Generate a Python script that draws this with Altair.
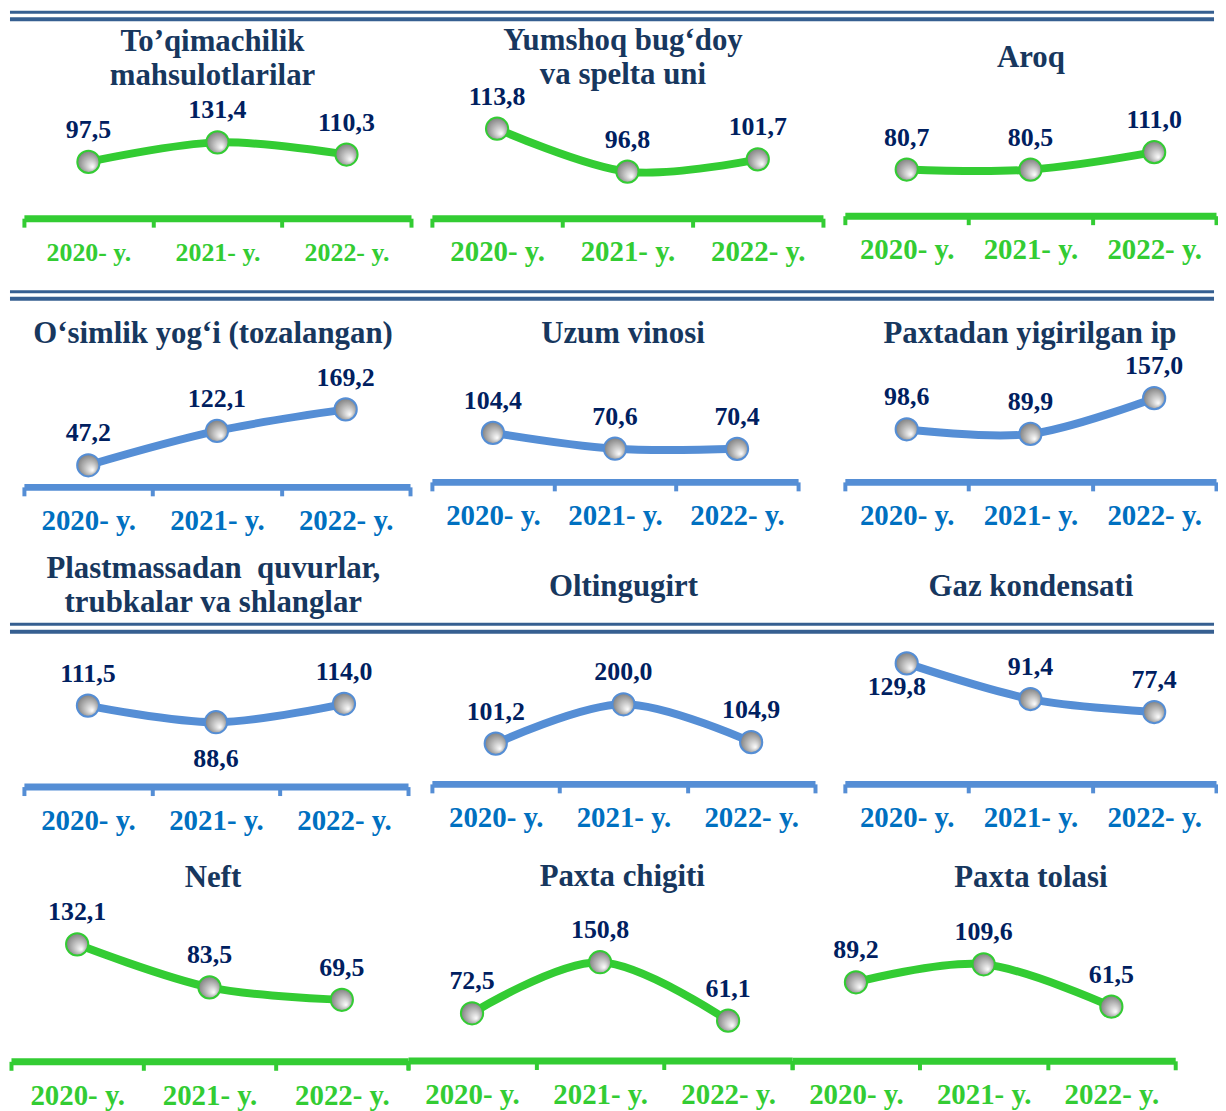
import altair as alt
import pandas as pd

# ---------------- data ----------------
years = ["2020- y.", "2021- y.", "2022- y."]

v_toqimachilik = [97.5, 131.4, 110.3]
v_yumshoq = [113.8, 96.8, 101.7]
v_aroq = [80.7, 80.5, 111.0]
v_osimlik = [47.2, 122.1, 169.2]
v_uzum = [104.4, 70.6, 70.4]
v_paxtadan_ip = [98.6, 89.9, 157.0]
v_plastmassa = [111.5, 88.6, 114.0]
v_oltingugirt = [101.2, 200.0, 104.9]
v_gaz = [129.8, 91.4, 77.4]
v_neft = [132.1, 83.5, 69.5]
v_chigit = [72.5, 150.8, 61.1]
v_tola = [89.2, 109.6, 61.5]

t_toqimachilik = ["To’qimachilik", "mahsulotlarilar"]
t_yumshoq = ["Yumshoq bug‘doy", "va spelta uni"]
t_aroq = ["Aroq"]
t_osimlik = ["O‘simlik yog‘i (tozalangan)"]
t_uzum = ["Uzum vinosi"]
t_paxtadan_ip = ["Paxtadan yigirilgan ip"]
t_plastmassa = ["Plastmassadan\u00a0 quvurlar,", "trubkalar va shlanglar"]
t_oltingugirt = ["Oltingugirt"]
t_gaz = ["Gaz kondensati"]
t_neft = ["Neft"]
t_chigit = ["Paxta chigiti"]
t_tola = ["Paxta tolasi"]

# ---------------- styles ----------------
SERIF = "Liberation Serif"
GREEN = "#33CC33"
BLUE = "#558ED5"
BLUE_LBL = "#0070C0"
TITLE_C = "#17375E"
VAL_C = "#002060"
SEP_C = "#365F91"
THEMES = {"g": (GREEN, GREEN), "b": (BLUE, BLUE_LBL)}

COL_LEFT = [8, 420, 828]
COL_W = [412, 408, 390]
TOTAL_W = 1210

BALL = {
    "gradient": "radial",
    "x1": 0.7, "y1": 0.74, "r1": 0.0,
    "x2": 0.5, "y2": 0.5, "r2": 0.6,
    "stops": [
        {"offset": 0.0, "color": "#ffffff"},
        {"offset": 1.0, "color": "#6f6f6f"},
    ],
}

# layout of each small chart (page pixels)
panels = [
    dict(r=0, c=0, vals=v_toqimachilik, title=t_toqimachilik, th="g", tx=211.5, ty=48, xr=(22, 411), ay=216.5, lo=0, ppu=0.58, ls=26),
    dict(r=0, c=1, vals=v_yumshoq, title=t_yumshoq, th="g", tx=624, ty=47, xr=(432, 825), ay=216.5, lo=78.4, ppu=2.54, ls=29),
    dict(r=0, c=2, vals=v_aroq, title=t_aroq, th="g", tx=1034, ty=65, xr=(847, 1220), ay=214, lo=0, ppu=0.575, ls=29),
    dict(r=1, c=0, vals=v_osimlik, title=t_osimlik, th="b", tx=212, ty=341.5, xr=(22, 410), ay=486, lo=0, ppu=0.46, ls=29),
    dict(r=1, c=1, vals=v_uzum, title=t_uzum, th="b", tx=624, ty=341, xr=(432, 800), ay=481, lo=0, ppu=0.472, ls=29),
    dict(r=1, c=2, vals=v_paxtadan_ip, title=t_paxtadan_ip, th="b", tx=1033, ty=341, xr=(847, 1220), ay=481, lo=0, ppu=0.536, ls=29),
    dict(r=2, c=0, vals=v_plastmassa, title=t_plastmassa, th="b", tx=212.3, ty=576.7, xr=(22, 408), ay=786.7, lo=0, ppu=0.73, ls=29, below=[1], bdy=45, bdx=0),
    dict(r=2, c=1, vals=v_oltingugirt, title=t_oltingugirt, th="b", tx=624.5, ty=595, xr=(432, 817), ay=784, lo=0, ppu=0.40, ls=29),
    dict(r=2, c=2, vals=v_gaz, title=t_gaz, th="b", tx=1034, ty=595, xr=(847, 1220), ay=784, lo=0, ppu=0.933, ls=29, below=[0], bdy=32, bdx=-10),
    dict(r=3, c=0, vals=v_neft, title=t_neft, th="g", tx=212, ty=887.3, xr=(9, 408), ay=1062.5, lo=0, ppu=0.89, ls=29),
    dict(r=3, c=1, vals=v_chigit, title=t_chigit, th="g", tx=623.3, ty=886.7, xr=(408, 794), ay=1061.7, lo=0, ppu=0.655, ls=29),
    dict(r=3, c=2, vals=v_tola, title=t_tola, th="g", tx=1034, ty=887.3, xr=(794, 1179), ay=1062, lo=0, ppu=0.885, ls=29),
]

# double separator lines: (row, page y, width)
separators = [(0, 9.5, 3), (0, 16.5, 4), (1, 290, 3), (1, 297, 4), (2, 623.5, 3), (2, 631, 4)]

# row tops follow from the lowest axis line of the row above
ROW_TOP = [8.0]
for r in range(3):
    ROW_TOP.append(max(p["ay"] for p in panels if p["r"] == r))
ROW_H = [max(p["ay"] for p in panels if p["r"] == r) - ROW_TOP[r] for r in range(4)]

LABEL_EXPR = "replace(format(datum.v, '.1f'), '.', ',')"


def in_expr(idx):
    items = ",".join("'" + years[i] + "'" for i in idx)
    return "indexof([" + items + "], datum.year)"


def make_panel(p):
    line_c, lbl_c = THEMES[p["th"]]
    top = ROW_TOP[p["r"]]
    left = COL_LEFT[p["c"]]
    H = ROW_H[p["r"]]
    off = p["ay"] - (top + H)
    lo = p["lo"]
    v_bottom = lo - (top + H - p["ay"]) / p["ppu"]
    v_top = lo + (p["ay"] - top) / p["ppu"]
    df = pd.DataFrame({"year": years, "v": p["vals"]})

    x = alt.X(
        "year:N",
        sort=years,
        title=None,
        scale=alt.Scale(type="band", domain=years,
                        range=[p["xr"][0] - left, p["xr"][1] - left],
                        paddingInner=0, paddingOuter=0),
        axis=alt.Axis(
            offset=off,
            domainColor=line_c, domainWidth=7,
            tickColor=line_c, tickWidth=4, tickSize=9, tickBand="extent",
            labelColor=lbl_c, labelFont=SERIF, labelFontWeight="bold",
            labelFontSize=p["ls"], labelAngle=0, labelBaseline="alphabetic",
            labelAlign="center", labelPadding=34, grid=False, labelLimit=0,
        ),
    )
    y = alt.Y("v:Q", scale=alt.Scale(domain=[v_bottom, v_top], zero=False, nice=False), axis=None)

    base = alt.Chart(df).encode(x=x, y=y)
    layers = []

    for (r, sy, sw) in separators:
        if r == p["r"] and p["c"] == 0:
            layers.append(
                alt.Chart(pd.DataFrame({"d": [0]}))
                .mark_rule(color=SEP_C, strokeWidth=sw)
                .encode(x=alt.value(0), x2=alt.value(TOTAL_W), y=alt.value(sy - top))
            )

    layers.append(base.mark_line(interpolate="cardinal", strokeWidth=8, color=line_c, strokeCap="round"))
    layers.append(base.mark_circle(size=500, fill=BALL, stroke=line_c, strokeWidth=2, opacity=1))

    below = p.get("below", [])
    txt = dict(font=SERIF, fontWeight="bold", fontSize=26, color=VAL_C, align="center", baseline="alphabetic")
    above_layer = (
        base.transform_calculate(lbl=LABEL_EXPR)
        .mark_text(dy=-24, **txt)
        .encode(text="lbl:N")
    )
    if below:
        above_layer = above_layer.transform_filter(in_expr(below) + " < 0")
        layers.append(above_layer)
        layers.append(
            base.transform_calculate(lbl=LABEL_EXPR)
            .transform_filter(in_expr(below) + " >= 0")
            .mark_text(dy=p["bdy"], dx=p["bdx"], **txt)
            .encode(text="lbl:N")
        )
    else:
        layers.append(above_layer)

    layers.append(
        alt.Chart(pd.DataFrame({"t": ["\n".join(p["title"])]}))
        .mark_text(font=SERIF, fontWeight="bold", fontSize=31, color=TITLE_C,
                   align="center", baseline="alphabetic", lineBreak="\n", lineHeight=35)
        .encode(text="t:N", x=alt.value(p["tx"] - left), y=alt.value(p["ty"] - top))
    )

    return alt.layer(*layers).properties(width=COL_W[p["c"]], height=H)


cells = [make_panel(p) for p in sorted(panels, key=lambda q: (q["r"], q["c"]))]

chart = (
    alt.concat(*cells, columns=3, spacing=0, bounds="flush", align="each")
    .properties(padding=0)
    .configure_view(strokeWidth=0)
)

chart.save("out.html", embed_options={"renderer": "svg", "actions": False})
